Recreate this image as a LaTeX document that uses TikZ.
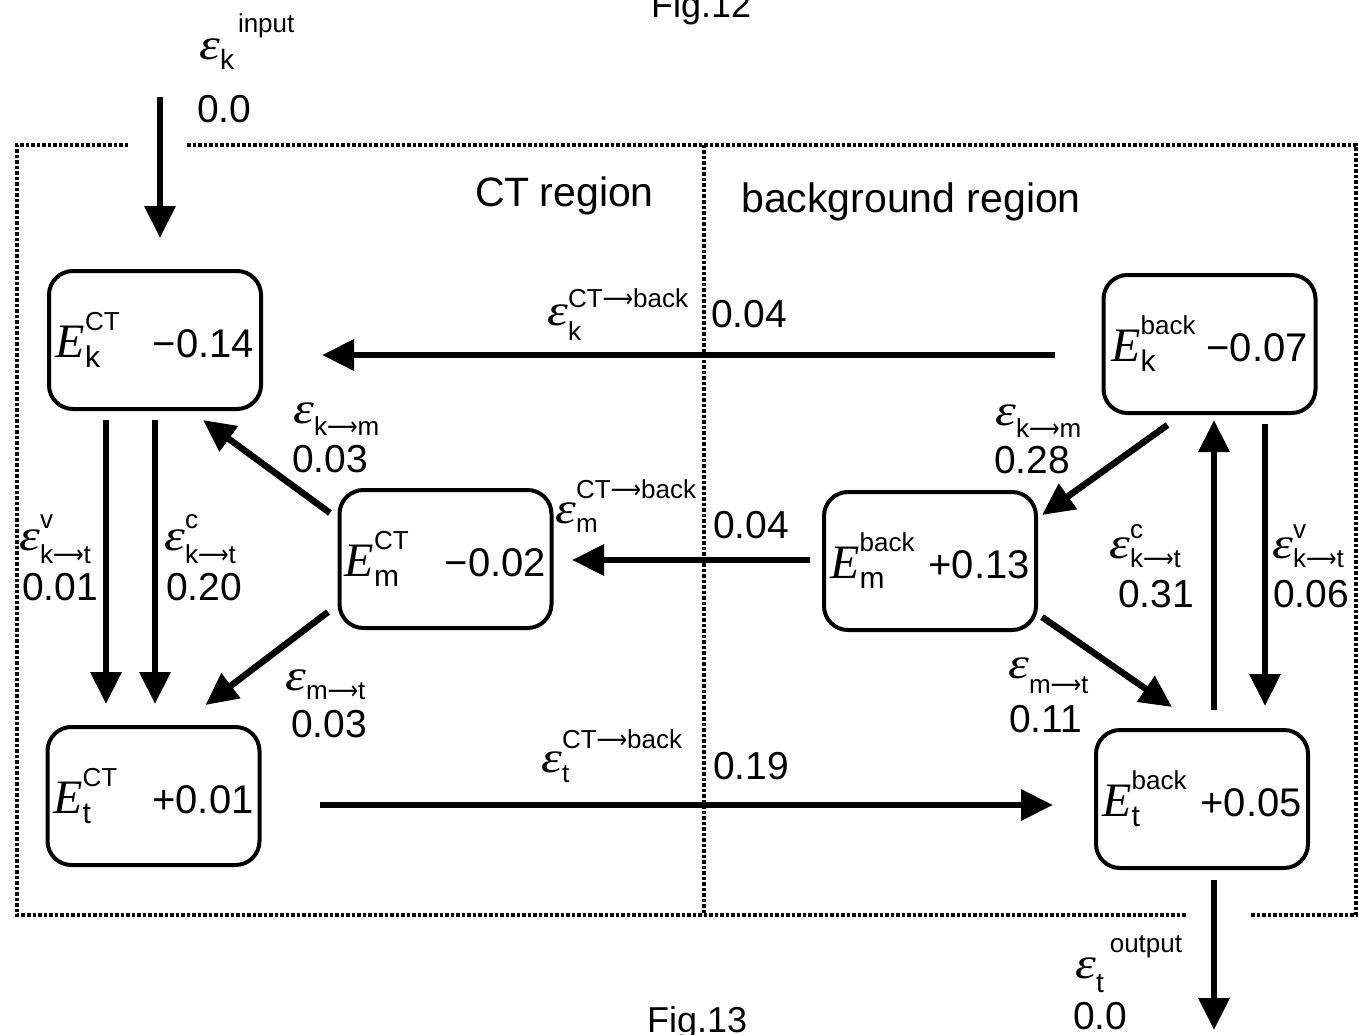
\documentclass[tikz,border=0pt]{standalone}
\usepackage{fontspec}
\setmainfont{Liberation Sans}
\newfontfamily\Efont{Liberation Serif}
\newfontfamily\Arrfont{DejaVu Sans}
\usepackage{graphicx}
\usetikzlibrary{arrows.meta,calc}
\newcommand\fs[1]{\fontsize{#1}{#1}\selectfont}
\newcommand\ra{\scalebox{0.82}[1]{\Arrfont ⟶}}
% raise, lower, sup, sub
\newcommand\SubSup[4]{%
  \setbox0=\hbox{#3}\setbox2=\hbox{#4}%
  \ifdim\wd0>\wd2 \dimen0=\wd0 \else \dimen0=\wd2 \fi
  \rlap{\raise#1\box0}\rlap{\lower#2\box2}\hskip\dimen0\relax}
\newcommand\EpsS{\scalebox{1.2}[1]{\Efont\itshape\fs{44}ε}}
\newcommand\Eterm[2]{{\Efont\itshape\fs{48}E}\SubSup{27pt}{10pt}{\fs{26}#1}{\fs{30}#2}}
\newcommand\EpsL[4]{\EpsS\SubSup{#1}{#2}{\fs{26}#3}{\fs{26}#4}}
\begin{document}
\begin{tikzpicture}[x=1pt,y=-1pt,
  box/.style={draw, line width=4pt, rounded corners=24pt, minimum width=212pt,
    minimum height=138pt, inner sep=0pt, text height=60pt, text depth=26pt, font=\fs{40}},
  arr/.style={line width=6.5pt, -{Triangle[length=32pt,width=30pt]}},
  lab/.style={anchor=base west, inner sep=0pt, font=\fs{26}},
  val/.style={anchor=base west, inner sep=0pt, font=\fs{39}},
  frame/.style={line width=3.5pt, dash pattern=on 3.5pt off 2pt}]
\useasboundingbox (0,0) rectangle (1359,1035);
\clip (0,0) rectangle (1359,1035);

% frame
\draw[frame] (128,145) -- (17,145) -- (17,915) -- (1187,915);
\draw[frame] (187,145) -- (1356,145) -- (1356,915) -- (1250,915);
\draw[frame] (704,145) -- (704,915);

% titles
\node[anchor=base west, inner sep=0pt, font=\fs{36}] (fig12) at (651,18) {Fig.12};
\node[anchor=base west, inner sep=0pt, font=\fs{36}] (fig13) at (647,1032) {Fig.13};
\node[anchor=base west, inner sep=0pt, font=\fs{41}] (ctreg) at (475,206) {CT\kern10pt region};
\node[anchor=base west, inner sep=0pt, font=\fs{41}] (bgreg) at (741,212) {background region};

% boxes
\node[box] (EkCT) at (155,340) {\makebox[97pt][l]{\Eterm{CT}{k}}−0.14};
\node[box] (EmCT) at (445.5,559) {\makebox[100pt][l]{\Eterm{CT}{m}}−0.02};
\node[box] (EtCT) at (153.5,796) {\makebox[99pt][l]{\Eterm{CT}{t}}+0.01};
\node[box] (EkB) at (1209.5,344) {\makebox[95pt][l]{\Eterm{back}{k}}−0.07};
\node[box] (EmB) at (930,561) {\makebox[98pt][l]{\Eterm{back}{m}}+0.13};
\node[box] (EtB) at (1202,799) {\makebox[98pt][l]{\Eterm{back}{t}}+0.05};

% input / output
\coordinate (inTop) at (160,97);
\coordinate (outEnd) at (1214,1030);
\draw[arr] (inTop) -- ($(EkCT.north)+(5,-31)$);
\draw[arr] ($(EtB.south)+(12,10)$) -- (outEnd);

% CT region arrows
\draw[arr] ($(EkCT.south)+(-49,9)$) -- ($(EtCT.north)+(-47.5,-21)$);
\draw[arr] ($(EkCT.south)+(0,9)$) -- ($(EtCT.north)+(1.5,-21)$);
\draw[arr] ($(EmCT.north west)+(-7.5,25)$) -- ($(EkCT.south)+(48,9)$);
\draw[arr] ($(EmCT.south west)+(-9.5,-18)$) -- ($(EtCT.north)+(52,-20)$);

% exchange arrows
\draw[arr] ($(EkB.west)+(-46.5,11)$) -- ($(EkCT.east)+(59,15)$);
\draw[arr] ($(EmB.west)+(-12,-1)$) -- ($(EmCT.east)+(18.5,1)$);
\draw[arr] ($(EtCT.east)+(58.5,9)$) -- ($(EtB.west)+(-41,6)$);

% background region arrows
\draw[arr] ($(EkB.south)+(-42,10)$) -- ($(EmB.north east)+(4,25)$);
\draw[arr] ($(EmB.south east)+(4,-15)$) -- ($(EtB.north)+(-30,-21)$);
\draw[arr] ($(EtB.north)+(12,-18)$) -- ($(EkB.south)+(4.5,5)$);
\draw[arr] ($(EkB.south)+(55.5,9)$) -- ($(EtB.north)+(63,-22)$);

% labels
\node[lab] (Lin) at (199,60) {\EpsS\lower10pt\hbox{\fs{28}k}\kern4pt\raise27pt\hbox{\fs{26}input}};
\node[val] (Vin) at (197,123) {0.0};
\node[lab] (Lout) at (1075,978) {\EpsS\lower14pt\hbox{\fs{28}t}\kern6pt\raise26pt\hbox{\fs{26}output}};
\node[val] (Vout) at (1073,1029) {0.0};

\node[lab] (L1) at (293,423) {\EpsL{20pt}{12pt}{}{k\ra m}};
\node[val] (V1) at (292,472) {0.03};
\node[lab] (L2) at (19,550) {\EpsL{22pt}{13pt}{v}{k\ra t}};
\node[val] (V2) at (22,600) {0.01};
\node[lab] (L3) at (164,550) {\EpsL{22pt}{13pt}{c}{k\ra t}};
\node[val] (V3) at (166,600) {0.20};
\node[lab] (L4) at (285,690) {\EpsL{20pt}{9pt}{}{m\ra t}};
\node[val] (V4) at (291,737) {0.03};

\node[lab] (L5) at (547,325) {\EpsL{18pt}{15pt}{CT\ra back}{k}};
\node[val] (V5) at (711,327) {0.04};
\node[lab] (L6) at (555,523) {\EpsL{25pt}{9pt}{CT\ra back}{m}};
\node[val] (V6) at (713,538) {0.04};
\node[lab] (L7) at (541,772) {\EpsL{24pt}{10pt}{CT\ra back}{t}};
\node[val] (V7) at (713,779) {0.19};

\node[lab] (L8) at (995,425) {\EpsL{20pt}{12pt}{}{k\ra m}};
\node[val] (V8) at (994,473) {0.28};
\node[lab] (L9) at (1109,558) {\EpsL{20pt}{9pt}{c}{k\ra t}};
\node[val] (V9) at (1118,607) {0.31};
\node[lab] (L10) at (1272,558) {\EpsL{20pt}{9pt}{v}{k\ra t}};
\node[val] (V10) at (1273,607) {0.06};
\node[lab] (L11) at (1008,678) {\EpsL{20pt}{15pt}{}{m\ra t}};
\node[val] (V11) at (1009,732) {0.11};
\end{tikzpicture}
\end{document}
